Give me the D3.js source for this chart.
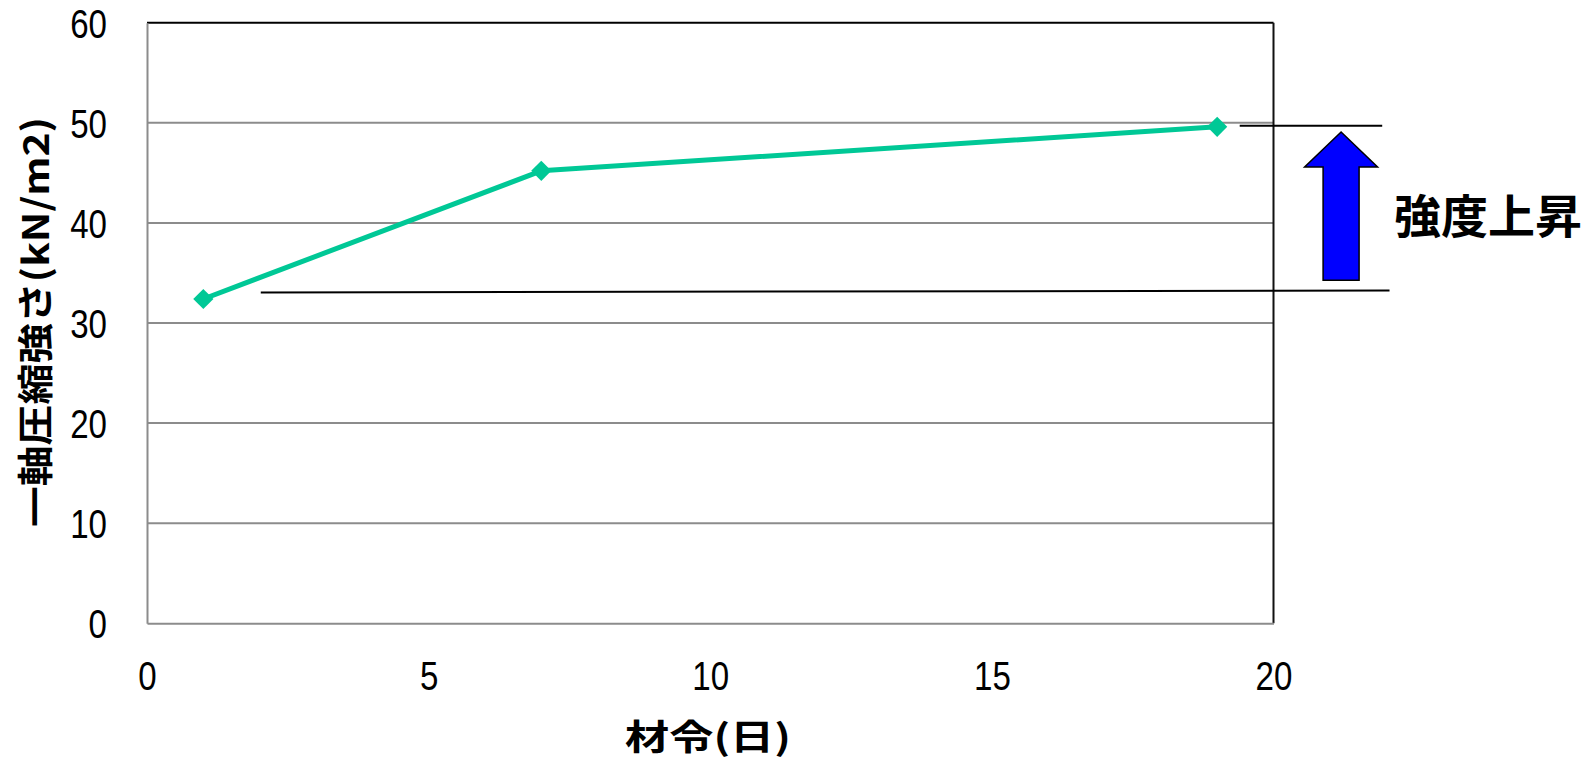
<!DOCTYPE html>
<html><head><meta charset="utf-8">
<script src="https://cdn.jsdelivr.net/npm/d3@7"></script>
<style>
html,body{margin:0;padding:0;background:#fff;}
svg{display:block;}
.tick text{font-family:"Liberation Sans Narrow","Liberation Sans",Arial,sans-serif;font-size:40px;fill:#000;}
.cjk{font-family:"Noto Sans CJK JP","Noto Sans",sans-serif;font-weight:700;fill:#000;}
</style></head>
<body>
<svg id="c" width="1591" height="761"></svg>
<script>
// data
const ages = [1, 7, 19];                // 材令 (日)
const strengths = [32.4, 45.2, 49.6];   // 一軸圧縮強さ (kN/m2)
const xTicks = [0, 5, 10, 15, 20];
const yTicks = [0, 10, 20, 30, 40, 50, 60];
const xTitle = "材令(日)";
const yTitle = "一軸圧縮強さ(kN/m2)";
const noteText = "強度上昇";
// annotation reference lines (data coords)
const refUpper = [[19.4, 49.7], [21.93, 49.7]];
const refLower = [[2.02, 33.05], [22.06, 33.25]];
const arrowX = 21.2, arrowFrom = 34.26, arrowTo = 49.08;

const svg = d3.select("#c");
const L = 147, R = 1273.5, T = 22.7, B = 623.3;
const x = d3.scaleLinear().domain([0, 20]).range([L, R]);
const y = d3.scaleLinear().domain([0, 60]).range([B, T]);

// horizontal gridlines
svg.append("g").selectAll("line").data(yTicks.filter(d => d > 0 && d < 60)).join("line")
  .attr("x1", L).attr("x2", R).attr("y1", d => y(d)).attr("y2", d => y(d))
  .attr("stroke", "#8c8c8c").attr("stroke-width", 2);

// top & right border
svg.append("line").attr("x1", L).attr("x2", R).attr("y1", y(60)).attr("y2", y(60))
  .attr("stroke", "#000").attr("stroke-width", 2);
svg.append("line").attr("x1", R).attr("x2", R).attr("y1", T).attr("y2", B)
  .attr("stroke", "#111").attr("stroke-width", 2);

// narrow digit look: condense each label to ~18.4px per digit
function narrow(sel) {
  sel.selectAll(".tick text").each(function () {
    const t = d3.select(this);
    t.attr("textLength", 18.4 * t.text().length).attr("lengthAdjust", "spacingAndGlyphs");
  });
}

// axes
const yAxis = svg.append("g").attr("transform", `translate(${L},0)`)
  .call(d3.axisLeft(y).tickValues(yTicks).tickSize(0).tickPadding(40));
yAxis.select(".domain").attr("stroke", "#8c8c8c").attr("stroke-width", 2);
yAxis.selectAll(".tick text").attr("dy", "0.36em");
narrow(yAxis);

const xAxis = svg.append("g").attr("transform", `translate(0,${B})`)
  .call(d3.axisBottom(x).tickValues(xTicks).tickSize(0).tickPadding(38));
xAxis.select(".domain").attr("stroke", "#8c8c8c").attr("stroke-width", 2);
xAxis.selectAll(".tick text").attr("dy", "0.71em");
narrow(xAxis);

// reference lines
[refUpper, refLower].forEach(seg => {
  svg.append("line")
    .attr("x1", x(seg[0][0])).attr("y1", y(seg[0][1]))
    .attr("x2", x(seg[1][0])).attr("y2", y(seg[1][1]))
    .attr("stroke", "#000").attr("stroke-width", 2);
});

// series line
const pts = ages.map((a, i) => [a, strengths[i]]);
svg.append("path").datum(pts)
  .attr("d", d3.line().x(d => x(d[0])).y(d => y(d[1])))
  .attr("fill", "none").attr("stroke", "#00C896").attr("stroke-width", 5)
  .attr("stroke-linejoin", "round");
svg.append("g").selectAll("path").data(pts).join("path")
  .attr("d", d3.symbol(d3.symbolDiamond2, 260))
  .attr("transform", d => `translate(${x(d[0])},${y(d[1])})`)
  .attr("fill", "#00C896");

// arrow
const ax = x(arrowX), yTop = y(arrowTo), yBot = y(arrowFrom);
const headH = 35, headW = 36.5, shaftW = 18;
const arrowPath = d3.path();
arrowPath.moveTo(ax, yTop);
arrowPath.lineTo(ax + headW, yTop + headH);
arrowPath.lineTo(ax + shaftW, yTop + headH);
arrowPath.lineTo(ax + shaftW, yBot);
arrowPath.lineTo(ax - shaftW, yBot);
arrowPath.lineTo(ax - shaftW, yTop + headH);
arrowPath.lineTo(ax - headW, yTop + headH);
arrowPath.closePath();
svg.append("path").attr("d", arrowPath.toString())
  .attr("fill", "#0000FF").attr("stroke", "#000").attr("stroke-width", 1.5);

// note text
svg.append("text").attr("class", "cjk")
  .attr("x", 1394).attr("y", 213).attr("dominant-baseline", "central")
  .attr("font-size", 46).attr("textLength", 188).attr("lengthAdjust", "spacingAndGlyphs")
  .text(noteText);

// axis titles
svg.append("text").attr("class", "cjk")
  .attr("x", 708).attr("y", 734).attr("text-anchor", "middle").attr("dominant-baseline", "central")
  .attr("font-size", 35).attr("textLength", 166).attr("lengthAdjust", "spacingAndGlyphs")
  .text(xTitle);

svg.append("text").attr("class", "cjk")
  .attr("transform", "translate(33,322) rotate(-90)")
  .attr("text-anchor", "middle").attr("dominant-baseline", "central")
  .attr("font-size", 36).attr("textLength", 410).attr("lengthAdjust", "spacingAndGlyphs")
  .text(yTitle);
</script>
</body></html>
